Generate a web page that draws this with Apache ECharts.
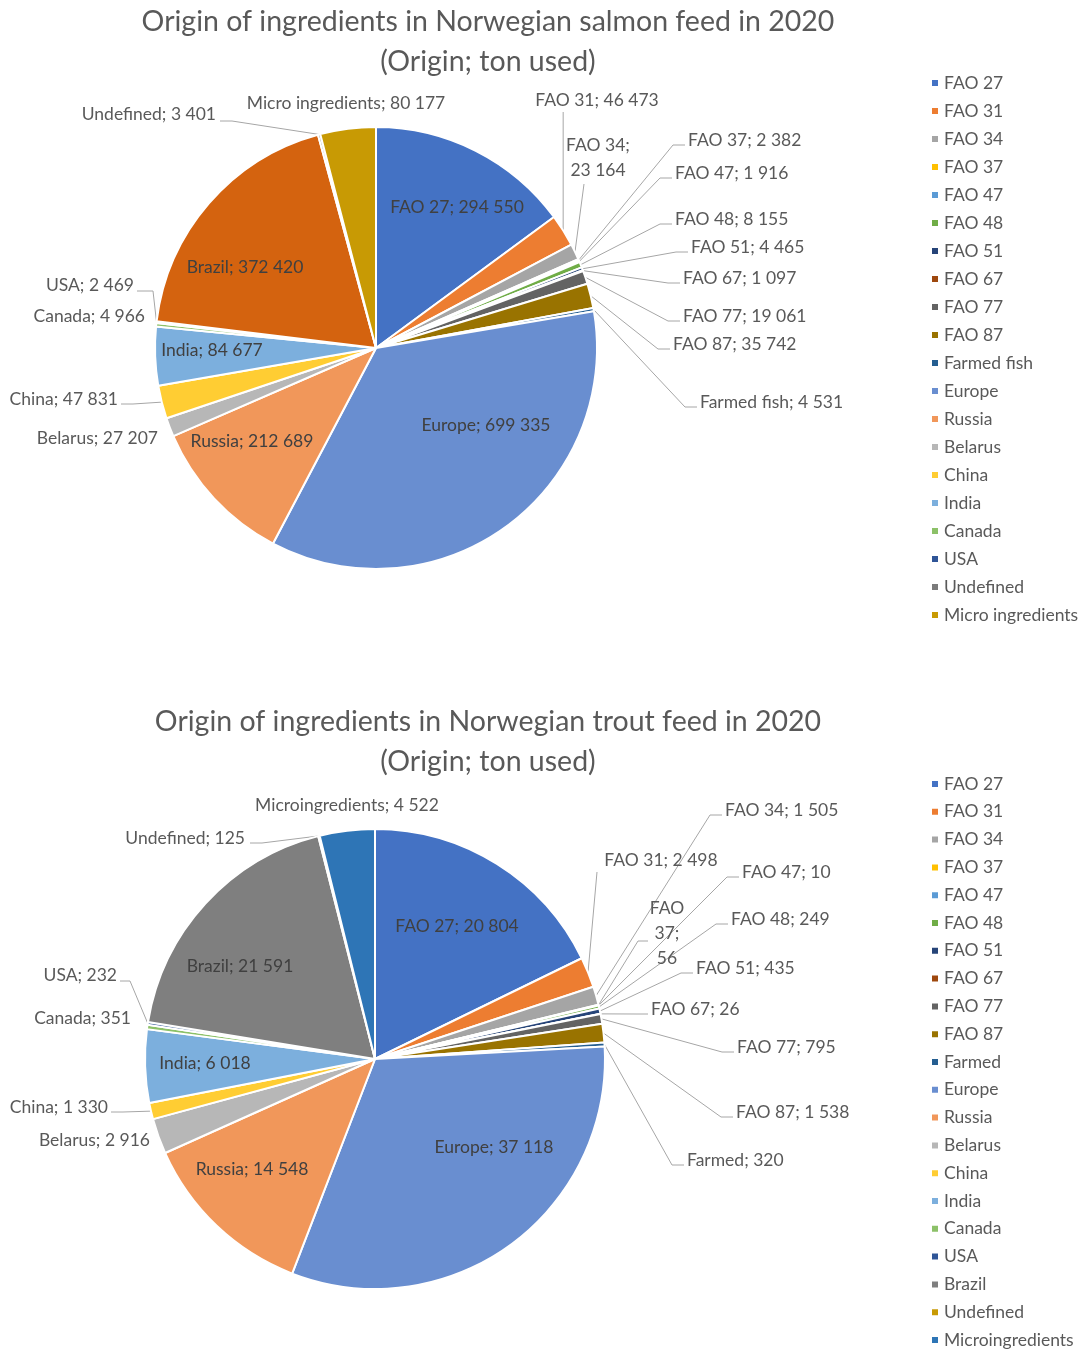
<!DOCTYPE html>
<html><head><meta charset="utf-8">
<script src="https://cdn.jsdelivr.net/npm/echarts@6/dist/echarts.min.js"></script>
<style>
html,body{margin:0;padding:0;background:#fff;overflow:hidden;}
#c1{position:absolute;left:0;top:0;width:1087px;height:680px}
#c2{position:absolute;left:0;top:680px;width:1087px;height:720px}
</style>
</head><body><div id="c1"></div><div id="c2"></div>
<script>
// ---- data ----
const salmonTitle = 'Origin of ingredients in Norwegian salmon feed in 2020';
const troutTitle = 'Origin of ingredients in Norwegian trout feed in 2020';
const subTitle = '(Origin; ton used)';

const salmonNames = ['FAO 27','FAO 31','FAO 34','FAO 37','FAO 47','FAO 48','FAO 51','FAO 67','FAO 77','FAO 87','Farmed fish','Europe','Russia','Belarus','China','India','Canada','USA','Brazil','Undefined','Micro ingredients'];
const salmonValues = [294550,46473,23164,2382,1916,8155,4465,1097,19061,35742,4531,699335,212689,27207,47831,84677,4966,2469,372420,3401,80177];
const salmonLegend = salmonNames.filter(n => n !== 'Brazil');

const troutNames = ['FAO 27','FAO 31','FAO 34','FAO 37','FAO 47','FAO 48','FAO 51','FAO 67','FAO 77','FAO 87','Farmed','Europe','Russia','Belarus','China','India','Canada','USA','Brazil','Undefined','Microingredients'];
const troutValues = [20804,2498,1505,56,10,249,435,26,795,1538,320,37118,14548,2916,1330,6018,351,232,21591,125,4522];
const troutLegend = troutNames.slice();

// ---- styles ----
const FONT = 'Lato';
const baseColors = ['#4472C4','#ED7D31','#A5A5A5','#FFC000','#5B9BD5','#70AD47','#264478','#9E480E','#636363','#997300','#255E91','#698ED0','#F1975A','#B7B7B7','#FFCD33','#7CAFDD','#8CC168','#2F5597'];
const salmonColors = baseColors.concat(['#D4630F','#7B7B7B','#C89A04']);
const troutColors = baseColors.concat(['#7F7F7F','#C89A04','#2E75B6']);

// label placement (page coordinates), kept apart from the data
const salmonSpots = {
  'FAO 27': {t:'in', x:457, y:207},
  'FAO 31': {t:'v', x:597, y:100, a:'center', ey:112},
  'FAO 34': {t:'pts', x:598, y:158, a:'center', pts:[[584,184]], wrap:'semi'},
  'FAO 37': {t:'h', x:688, y:140, a:'left'},
  'FAO 47': {t:'h', x:675, y:173, a:'left'},
  'FAO 48': {t:'h', x:675, y:219, a:'left'},
  'FAO 51': {t:'h', x:691, y:247, a:'left'},
  'FAO 67': {t:'h', x:683, y:278, a:'left'},
  'FAO 77': {t:'h', x:683, y:316, a:'left'},
  'FAO 87': {t:'h', x:673, y:344, a:'left'},
  'Farmed fish': {t:'h', x:700, y:402, a:'left'},
  'Europe': {t:'in', x:486, y:425},
  'Russia': {t:'in', x:252, y:441},
  'Belarus': {t:'none', x:158, y:438, a:'right'},
  'China': {t:'h', x:118, y:399, a:'right'},
  'India': {t:'in', x:212, y:350},
  'Canada': {t:'none', x:145, y:316, a:'right'},
  'USA': {t:'pts', x:134, y:285, a:'right', pts:[[153,291],[137,291]]},
  'Brazil': {t:'in', x:245, y:267},
  'Undefined': {t:'pts', x:216, y:114, a:'right', pts:[[232,121],[220,121]]},
  'Micro ingredients': {t:'none', x:346, y:103, a:'center'}
};
const troutSpots = {
  'FAO 27': {t:'in', x:457, y:926},
  'FAO 31': {t:'pts', x:661, y:860, a:'center', pts:[[597,872]]},
  'FAO 34': {t:'h', x:725, y:810, a:'left'},
  'FAO 37': {t:'pts', x:667, y:933, a:'center', pts:[[638,941],[648,941]], wrap:'all'},
  'FAO 47': {t:'h', x:742, y:872, a:'left'},
  'FAO 48': {t:'h', x:731, y:919, a:'left'},
  'FAO 51': {t:'h', x:696, y:968, a:'left'},
  'FAO 67': {t:'h', x:651, y:1009, a:'left'},
  'FAO 77': {t:'h', x:737, y:1047, a:'left'},
  'FAO 87': {t:'h', x:736, y:1112, a:'left'},
  'Farmed': {t:'h', x:687, y:1160, a:'left'},
  'Europe': {t:'in', x:494, y:1147},
  'Russia': {t:'in', x:252, y:1169},
  'Belarus': {t:'none', x:150, y:1140, a:'right'},
  'China': {t:'h', x:108, y:1107, a:'right'},
  'India': {t:'in', x:205, y:1063},
  'Canada': {t:'none', x:131, y:1018, a:'right'},
  'USA': {t:'pts', x:117, y:975, a:'right', pts:[[130,981],[120,981]]},
  'Brazil': {t:'in', x:240, y:966},
  'Undefined': {t:'pts', x:245, y:838, a:'right', pts:[[262,843],[250,843]]},
  'Microingredients': {t:'none', x:347, y:805, a:'center'}
};

function fmt(v) { return String(v).replace(/\B(?=(\d{3})+(?!\d))/g, ' '); }

function makeLayout(names, spots, oy) {
  return function (p) {
    const s = spots[names[p.dataIndex]];
    if (!s) return {};
    const out = {x: s.x, y: s.y - oy, align: s.a || 'center', verticalAlign: 'middle'};
    const lp = p.labelLinePoints;
    if (lp && lp.length && s.t !== 'in' && s.t !== 'none') {
      const p0 = lp[0];
      let pts;
      if (s.t === 'h') {
        const d = s.a === 'left' ? -1 : 1;
        pts = [p0, [s.x + d * 15, s.y - oy + 5], [s.x + d * 3, s.y - oy + 5]];
      } else if (s.t === 'v') {
        pts = [p0, [p0[0], s.ey - oy]];
      } else {
        pts = [p0].concat(s.pts.map(q => [q[0], q[1] - oy]));
      }
      out.labelLinePoints = pts;
    }
    return out;
  };
}

function buildOption(cfg) {
  const data = cfg.names.map((n, i) => {
    const s = cfg.spots[n] || {};
    const item = {name: n, value: cfg.values[i], itemStyle: {color: cfg.colors[i]}};
    if (s.t === 'in') {
      item.label = {position: 'inside', color: '#404040'};
      item.labelLine = {show: false};
    } else if (s.t === 'none') {
      item.labelLine = {show: false};
    }
    return item;
  });
  return {
    animation: false,
    title: {
      text: cfg.title + '\n' + subTitle,
      left: 488, top: cfg.titleTop, textAlign: 'center', padding: 0,
      textStyle: {fontFamily: FONT, fontSize: 28.5, fontWeight: 'normal', color: '#595959', lineHeight: 40}
    },
    legend: {
      orient: 'vertical', left: 925, top: cfg.legendTop, height: 640,
      itemWidth: 8, itemHeight: 8, itemGap: cfg.legendGap, icon: 'rect',
      data: cfg.legend,
      textStyle: {fontFamily: FONT, fontSize: 17.5, color: '#595959', lineHeight: 18}
    },
    series: [{
      type: 'pie',
      center: cfg.center, radius: cfg.radius,
      startAngle: 90, clockwise: true,
      avoidLabelOverlap: false,
      data: data,
      itemStyle: {borderColor: '#ffffff', borderWidth: 2},
      label: {
        show: true, position: 'outside',
        fontFamily: FONT, fontSize: 17.5, color: '#595959', lineHeight: 25,
        formatter: function (p) {
          const s = cfg.spots[p.name] || {};
          const v = fmt(p.value);
          if (s.wrap === 'semi') return p.name + ';\n' + v;
          if (s.wrap === 'all') return p.name.replace(' ', '\n') + ';\n' + v;
          return p.name + '; ' + v;
        }
      },
      labelLine: {show: true, length: 10, length2: 10, lineStyle: {color: '#A6A6A6', width: 1}},
      labelLayout: makeLayout(cfg.names, cfg.spots, cfg.offsetY),
      emphasis: {disabled: true}
    }]
  };
}

const c1 = echarts.init(document.getElementById('c1'));
c1.setOption(buildOption({
  title: salmonTitle, titleTop: 2, names: salmonNames, values: salmonValues, colors: salmonColors,
  legend: salmonLegend, legendTop: 69, legendGap: 10, spots: salmonSpots, offsetY: 0,
  center: [376, 348], radius: 221
}));
const c2 = echarts.init(document.getElementById('c2'));
c2.setOption(buildOption({
  title: troutTitle, titleTop: 22, names: troutNames, values: troutValues, colors: troutColors,
  legend: troutLegend, legendTop: 90, legendGap: 9.8, spots: troutSpots, offsetY: 680,
  center: [375, 379], radius: 230
}));
</script>
</body></html>
